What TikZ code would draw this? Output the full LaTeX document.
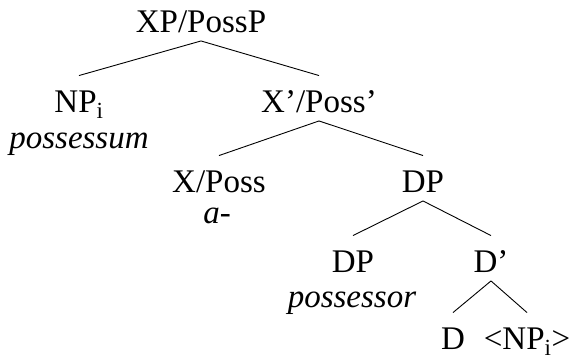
\documentclass[tikz,border=0pt]{standalone}
\usepackage{fontspec}
\setmainfont{Liberation Serif}
\newcommand{\treefont}{\fontsize{33}{39}\selectfont}
\tikzset{cat/.style={anchor=base,inner sep=0pt,text height=36pt,text depth=8.5pt,font=\treefont}}
\tikzset{gloss/.style={anchor=base,inner sep=0pt,font=\treefont\itshape}}

\begin{document}
\begin{tikzpicture}[x=1pt,y=-1pt,line width=0.9pt]
\useasboundingbox (0,0) rectangle (575,356);
\node[cat](xp) at (201,32) {XP/PossP};
\node[cat](np) at (79,112) {NP\textsubscript{i}};
\node[gloss](possessum) at (79,148) {possessum};
\node[cat](xbar) at (319,112) {X’/Poss’};
\node[cat](xposs) at (219,192) {X/Poss};
\node[gloss](prefix) at (217,223) {a-};
\node[cat](dp) at (423,192) {DP};
\node[cat](spec) at (353,272) {DP};
\node[gloss](possessor) at (352,307) {possessor};
\node[cat](dbar) at (491,272) {D’};
\node[cat](d) at (453,349) {D};
\node[cat](trace) at (527,349) {<NP\textsubscript{i}>};
\draw(xp.south) -- (np.north);
\draw(xp.south) -- (xbar.north);
\draw(xbar.south) -- (xposs.north);
\draw(xbar.south) -- (dp.north);
\draw(dp.south) -- (spec.north);
\draw(dp.south) -- (dbar.north);
\draw(dbar.south) -- (d.north);
\draw(dbar.south) -- (trace.north);
\end{tikzpicture}
\end{document}
